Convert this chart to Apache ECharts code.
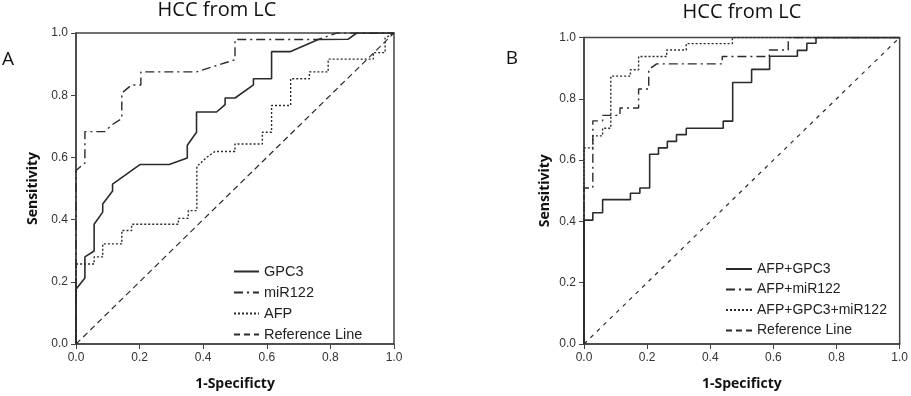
<!DOCTYPE html>
<html>
<head>
<meta charset="utf-8">
<script src="https://cdn.jsdelivr.net/npm/echarts@6/dist/echarts.min.js"></script>
<style>
  html, body { margin: 0; padding: 0; background: #fff; }
  #chart { width: 911px; height: 396px; }
</style>
</head>
<body>
<div id="chart"></div>
<script>
// tick labels shared by both panels
const tickLabels = ['0.0', '0.2', '0.4', '0.6', '0.8', '1.0']

// panel A: [1-specificity, sensitivity]
const gpc3 = [[0, 0], [0, 0.176], [0.028, 0.212], [0.028, 0.28], [0.057, 0.299], [0.057, 0.385], [0.084, 0.424], [0.084, 0.45], [0.115, 0.492], [0.115, 0.514], [0.201, 0.577], [0.293, 0.577], [0.35, 0.598], [0.35, 0.639], [0.379, 0.681], [0.379, 0.746], [0.442, 0.746], [0.469, 0.77], [0.469, 0.791], [0.5, 0.791], [0.558, 0.833], [0.558, 0.853], [0.615, 0.853], [0.615, 0.94], [0.673, 0.94], [0.762, 0.979], [0.856, 0.98], [0.883, 1], [1, 1]]
const mir122 = [[0, 0], [0, 0.558], [0.028, 0.582], [0.028, 0.683], [0.091, 0.683], [0.112, 0.704], [0.144, 0.725], [0.144, 0.807], [0.175, 0.833], [0.204, 0.833], [0.204, 0.875], [0.379, 0.875], [0.5, 0.914], [0.5, 0.979], [0.761, 0.979], [0.82, 1], [1, 1]]
const afp = [[0, 0], [0, 0.257], [0.057, 0.257], [0.057, 0.28], [0.084, 0.28], [0.084, 0.322], [0.144, 0.322], [0.144, 0.365], [0.175, 0.365], [0.175, 0.385], [0.322, 0.385], [0.322, 0.404], [0.353, 0.404], [0.353, 0.429], [0.38, 0.429], [0.38, 0.571], [0.411, 0.6], [0.437, 0.619], [0.5, 0.619], [0.5, 0.643], [0.586, 0.643], [0.586, 0.681], [0.615, 0.681], [0.615, 0.767], [0.675, 0.767], [0.675, 0.853], [0.734, 0.853], [0.734, 0.875], [0.793, 0.875], [0.793, 0.916], [0.935, 0.916], [0.935, 0.937], [0.972, 0.937], [0.972, 0.984], [1, 1]]

// panel B
const afpGpc3 = [[0, 0], [0, 0.404], [0.028, 0.404], [0.028, 0.428], [0.059, 0.428], [0.059, 0.471], [0.147, 0.471], [0.147, 0.492], [0.177, 0.492], [0.177, 0.509], [0.208, 0.509], [0.208, 0.619], [0.236, 0.619], [0.236, 0.64], [0.264, 0.64], [0.264, 0.661], [0.293, 0.661], [0.293, 0.683], [0.324, 0.683], [0.324, 0.704], [0.441, 0.704], [0.441, 0.727], [0.471, 0.727], [0.471, 0.853], [0.531, 0.853], [0.531, 0.896], [0.588, 0.896], [0.588, 0.939], [0.676, 0.939], [0.676, 0.958], [0.706, 0.958], [0.706, 0.981], [0.735, 0.981], [0.735, 1], [1, 1]]
const afpMir122 = [[0, 0], [0, 0.509], [0.028, 0.509], [0.028, 0.728], [0.059, 0.728], [0.059, 0.746], [0.114, 0.746], [0.114, 0.77], [0.173, 0.77], [0.173, 0.832], [0.205, 0.832], [0.205, 0.895], [0.23, 0.914], [0.438, 0.914], [0.438, 0.938], [0.587, 0.938], [0.587, 0.959], [0.647, 0.959], [0.647, 1], [1, 1]]
const afpGpc3Mir122 = [[0, 0], [0, 0.64], [0.028, 0.64], [0.028, 0.679], [0.059, 0.679], [0.059, 0.704], [0.085, 0.704], [0.085, 0.874], [0.147, 0.874], [0.147, 0.895], [0.173, 0.895], [0.173, 0.938], [0.262, 0.938], [0.262, 0.959], [0.324, 0.959], [0.324, 0.98], [0.47, 0.98], [0.47, 1], [1, 1]]
const refLine = [[0, 0], [1, 1]]

const namesA = ['GPC3', 'miR122', 'AFP', 'Reference Line']
const namesB = ['AFP+GPC3', 'AFP+miR122', 'AFP+GPC3+miR122', 'Reference Line']

const ink = '#2b2b2b'
const labelFont = 'Liberation Sans, Arial, sans-serif'

function axisX(gridIndex) {
  return {
    type: 'value', gridIndex, min: 0, max: 1, interval: 0.2,
    name: '1-Specificty', nameLocation: 'middle', nameGap: 33,
    nameTextStyle: { fontFamily: 'Open Sans', fontWeight: 'bold', fontSize: 14, color: '#111' },
    axisLine: { lineStyle: { color: '#444', width: 1.5 } },
    axisTick: { length: 5, lineStyle: { color: '#444' } },
    axisLabel: { margin: 8, fontFamily: labelFont, fontSize: 12, color: '#333',
      formatter: v => tickLabels[Math.round(v / 0.2)] },
    splitLine: { show: false }
  }
}

function axisY(gridIndex, gap) {
  return {
    type: 'value', gridIndex, min: 0, max: 1, interval: 0.2,
    name: 'Sensitivity', nameLocation: 'middle', nameGap: gap, nameRotate: 90,
    nameTextStyle: { fontFamily: 'Open Sans', fontWeight: 'bold', fontSize: 14, color: '#111' },
    axisLine: { lineStyle: { color: '#444', width: 1.5 } },
    axisTick: { length: 5, lineStyle: { color: '#444' } },
    axisLabel: { margin: 8, fontFamily: labelFont, fontSize: 12, color: '#333',
      formatter: v => tickLabels[Math.round(v / 0.2)] },
    splitLine: { show: false }
  }
}

function curve(name, data, idx, type, width) {
  return {
    name, type: 'line', data, xAxisIndex: idx, yAxisIndex: idx,
    symbol: 'none', silent: true, animation: false,
    itemStyle: { color: ink },
    lineStyle: { color: ink, width: width || 1.4, type }
  }
}

const chart = echarts.init(document.getElementById('chart'))
const option = {
  animation: false,
  grid: [
    { left: 76, top: 33, width: 318, height: 319, show: true, borderColor: '#444', borderWidth: 1.5 },
    { left: 584, top: 37.5, width: 321, height: 313.5, show: true, borderColor: '#444', borderWidth: 1.5 }
  ],
  xAxis: [axisX(0), axisX(1)],
  yAxis: [axisY(0, 36), axisY(1, 32)],
  graphic: [
    { type: 'text', x: 217, y: 10, style: { text: 'HCC from LC', font: '20px "Open Sans"', fill: '#111', align: 'center', verticalAlign: 'middle' } },
    { type: 'text', x: 742, y: 12, style: { text: 'HCC from LC', font: '20px "Open Sans"', fill: '#111', align: 'center', verticalAlign: 'middle' } },
    { type: 'text', x: 8, y: 60, style: { text: 'A', font: '19px "Open Sans"', fill: '#111', align: 'center', verticalAlign: 'middle' } },
    { type: 'text', x: 512, y: 59, style: { text: 'B', font: '19px "Open Sans"', fill: '#111', align: 'center', verticalAlign: 'middle' } }
  ],
  legend: [
    {
      data: namesA, orient: 'vertical', left: 233, top: 264, padding: 0,
      itemWidth: 25, itemHeight: 12, itemGap: 6, selectedMode: false,
      itemStyle: { opacity: 0 },
      textStyle: { fontFamily: labelFont, fontSize: 14.5, color: '#222' }
    },
    {
      data: namesB, orient: 'vertical', left: 725, top: 262, padding: 0,
      itemWidth: 26, itemHeight: 12, itemGap: 6.5, selectedMode: false,
      itemStyle: { opacity: 0 },
      textStyle: { fontFamily: labelFont, fontSize: 14, color: '#222' }
    }
  ],
  series: [
    curve('GPC3', gpc3, 0, 'solid', 1.6),
    curve('miR122', mir122, 0, [9, 4, 2, 4]),
    curve('AFP', afp, 0, [2, 2]),
    curve('Reference Line', refLine, 0, [6, 4], 1.2),
    curve('AFP+GPC3', afpGpc3, 1, 'solid', 1.6),
    curve('AFP+miR122', afpMir122, 1, [9, 4, 2, 4]),
    curve('AFP+GPC3+miR122', afpGpc3Mir122, 1, [2, 2]),
    curve('Reference Line', refLine, 1, [4, 5], 1.2)
  ]
}
chart.setOption(option)
</script>
</body>
</html>
